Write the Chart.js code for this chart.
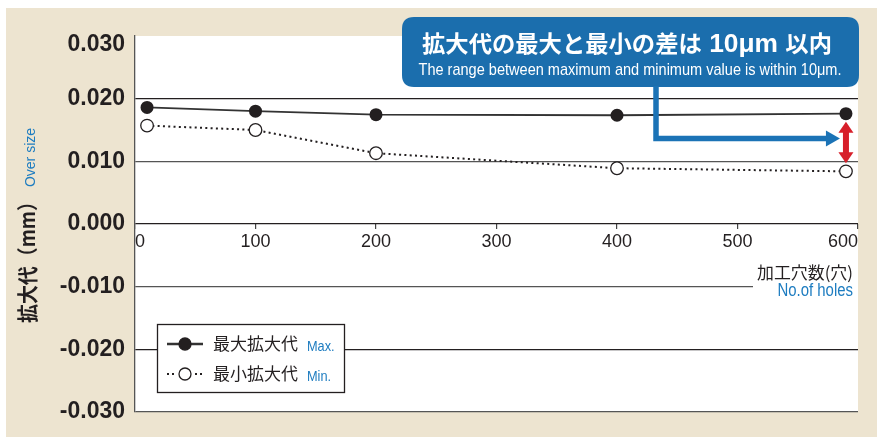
<!DOCTYPE html>
<html><head><meta charset="utf-8">
<script src="https://cdn.jsdelivr.net/npm/chart.js@4.4.0/dist/chart.umd.min.js"></script>
<style>html,body{margin:0;padding:0;background:#fff;}#wrap{width:877px;height:437px;}</style>
</head><body><div id="wrap"><canvas id="c" width="877" height="437"></canvas></div>
<script>
// ---- data ----
const holes = [10, 100, 200, 400, 590];
const maxOversize = [0.0186, 0.0180, 0.01745, 0.01735, 0.0176];
const minOversize = [0.0157, 0.0150, 0.0113, 0.0089, 0.0084];
const yTickValues = [0.03, 0.02, 0.01, 0, -0.01, -0.02, -0.03];
const xTickValues = [0, 100, 200, 300, 400, 500, 600];
const seriesNames = ['最大拡大代', '最小拡大代'];
const seriesTags = ['Max.', 'Min.'];
const yTitleJa = '拡大代（mm）';
const yTitleEn = 'Over size';
const xTitleJa = '加工穴数(穴)';
const xTitleEn = 'No.of holes';
const noteJa = ['拡大代の最大と最小の差は', '10μm', '以内'];
const noteEn = 'The range between maximum and minimum value is within 10μm.';

// ---- styles ----
const BEIGE = '#ede4d0';
const INK = '#231f20';
const BLUE_TXT = '#1d7cc0';
const BLUE_BOX = '#1b6ead';
const BLUE_ARROW = '#1b73b6';
const RED = '#d71f2a';
const JP = '"Noto Sans CJK JP","Noto Sans CJK SC",sans-serif';
const LAT = '"Liberation Sans",Arial,sans-serif';

function drawParts(ctx, parts, x, y, align, fitWidth) {
  const widths = parts.map(p => { ctx.font = p.font; return ctx.measureText(p.t).width * (p.sx || 1); });
  const total = widths.reduce((a, b) => a + b, 0);
  const k = fitWidth ? fitWidth / total : 1;
  const w = total * k;
  const start = align === 'center' ? x - w / 2 : (align === 'right' ? x - w : x);
  ctx.save();
  ctx.translate(start, y);
  ctx.scale(k, 1);
  let cx = 0;
  parts.forEach((p, i) => {
    ctx.save();
    ctx.translate(cx + (p.dx || 0), p.dy || 0);
    ctx.scale(p.sx || 1, 1);
    ctx.font = p.font; ctx.fillStyle = p.color;
    ctx.textAlign = 'left'; ctx.textBaseline = 'alphabetic';
    ctx.fillText(p.t, 0, 0);
    ctx.restore();
    cx += widths[i];
  });
  ctx.restore();
}

function roundRect(ctx, x, y, w, h, r) {
  ctx.beginPath();
  ctx.moveTo(x + r, y);
  ctx.lineTo(x + w - r, y); ctx.quadraticCurveTo(x + w, y, x + w, y + r);
  ctx.lineTo(x + w, y + h - r); ctx.quadraticCurveTo(x + w, y + h, x + w - r, y + h);
  ctx.lineTo(x + r, y + h); ctx.quadraticCurveTo(x, y + h, x, y + h - r);
  ctx.lineTo(x, y + r); ctx.quadraticCurveTo(x, y, x + r, y);
  ctx.closePath();
}

const deco = {
  id: 'deco',
  beforeDraw(chart) {
    const { ctx, chartArea: a } = chart;
    ctx.save();
    ctx.fillStyle = '#fff'; ctx.fillRect(0, 0, chart.width, chart.height);
    ctx.fillStyle = BEIGE; ctx.fillRect(6, 8, chart.width - 6, chart.height - 8);
    ctx.fillStyle = '#fff'; ctx.fillRect(a.left, a.top, a.right - a.left, a.bottom - a.top);
    ctx.restore();
    // nudge the top y tick label down, as in the reference
    if (!chart.$nudged) {
      try {
        const items = chart.scales.y.getLabelItems();
        const topLabel = yTickValues[0].toFixed(3);
        items.forEach(it => { if (it.label === topLabel) it.options.translation[1] += 9; });
        chart.$nudged = true;
      } catch (e) {}
    }
  },
  afterDraw(chart) {
    const { ctx, chartArea: a, scales: { x, y } } = chart;
    ctx.save();

    // y axis title (rotated)
    ctx.save();
    ctx.translate(35, 323);
    ctx.rotate(-Math.PI / 2);
    drawParts(ctx, [{ t: yTitleJa, font: 'bold 21px ' + JP, color: INK }], 0, 0, 'left', 131);
    drawParts(ctx, [{ t: yTitleEn, font: '15px ' + LAT, color: BLUE_TXT }], 136, 0, 'left', 59);
    ctx.restore();

    // x axis title with gap in the gridline
    const gy = y.getPixelForValue(-0.01);
    ctx.fillStyle = '#fff';
    ctx.fillRect(753, gy - 3, a.right - 753, 6);
    drawParts(ctx, [{ t: xTitleJa, font: '17px ' + JP, color: INK }], 853, 279, 'right', 96);
    drawParts(ctx, [{ t: xTitleEn, font: '18px ' + LAT, color: BLUE_TXT, sx: 0.83 }], 853, 296, 'right');

    // legend
    const ds = chart.data.datasets;
    ctx.fillStyle = '#fff';
    ctx.fillRect(157, 324, 187, 68);
    ctx.strokeStyle = INK; ctx.lineWidth = 1.3;
    ctx.strokeRect(157.5, 324.5, 187, 68);
    const rows = [344, 374];
    rows.forEach((ry, i) => {
      const d = ds[i];
      ctx.save();
      ctx.strokeStyle = d.borderColor;
      if (i === 0) {
        ctx.lineWidth = 2.6;
        ctx.beginPath(); ctx.moveTo(167, ry); ctx.lineTo(203, ry); ctx.stroke();
      } else {
        ctx.fillStyle = INK;
        [168, 173, 196, 201].forEach(dx => ctx.fillRect(dx - 1, ry - 1, 2, 2));
      }
      ctx.beginPath(); ctx.arc(185, ry, 6, 0, Math.PI * 2);
      ctx.fillStyle = d.pointBackgroundColor; ctx.fill();
      ctx.lineWidth = 1.3; ctx.strokeStyle = d.pointBorderColor; ctx.stroke();
      ctx.restore();
      drawParts(ctx, [{ t: seriesNames[i], font: '17px ' + JP, color: INK }], 213, ry + 6, 'left', 85);
      drawParts(ctx, [{ t: seriesTags[i], font: '15px ' + LAT, color: BLUE_TXT, sx: 0.85 }], 307, ry + 7, 'left');
    });

    // red double arrow between max and min at the last point
    const li = holes.length - 1;
    const ax = x.getPixelForValue(holes[li]);
    const yTop = y.getPixelForValue(maxOversize[li]) + 8;
    const yBot = y.getPixelForValue(minOversize[li]) - 8;
    ctx.fillStyle = RED;
    ctx.fillRect(ax - 3, yTop + 9, 6, yBot - yTop - 18);
    ctx.beginPath(); ctx.moveTo(ax, yTop); ctx.lineTo(ax + 7.5, yTop + 11); ctx.lineTo(ax - 7.5, yTop + 11); ctx.closePath(); ctx.fill();
    ctx.beginPath(); ctx.moveTo(ax, yBot); ctx.lineTo(ax + 7.5, yBot - 11); ctx.lineTo(ax - 7.5, yBot - 11); ctx.closePath(); ctx.fill();

    // callout box
    ctx.fillStyle = BLUE_BOX;
    roundRect(ctx, 402, 17, 457, 70, 12);
    ctx.fill();
    drawParts(ctx, [
      { t: noteJa[0], font: 'bold 23px ' + JP, color: '#fff' },
      { t: ' ' + noteJa[1] + ' ', font: 'bold 26px ' + LAT, color: '#fff' },
      { t: noteJa[2], font: 'bold 23px ' + JP, color: '#fff' }
    ], 627, 52, 'center', 410);
    drawParts(ctx, [{ t: noteEn, font: '17px ' + LAT, color: '#fff' }], 630, 75, 'center', 423);

    // blue connector arrow
    const cy = (yTop + yBot) / 2 - 4;
    const tip = ax - 6;
    ctx.strokeStyle = BLUE_ARROW; ctx.lineWidth = 5.5; ctx.lineJoin = 'miter';
    ctx.beginPath(); ctx.moveTo(656, 86); ctx.lineTo(656, cy); ctx.lineTo(tip - 13, cy); ctx.stroke();
    ctx.fillStyle = BLUE_ARROW;
    ctx.beginPath(); ctx.moveTo(tip, cy); ctx.lineTo(tip - 14, cy - 8); ctx.lineTo(tip - 14, cy + 8); ctx.closePath(); ctx.fill();

    ctx.restore();
  }
};

new Chart(document.getElementById('c'), {
  type: 'line',
  data: {
    datasets: [
      {
        label: seriesNames[0],
        data: holes.map((h, i) => ({ x: h, y: maxOversize[i] })),
        borderColor: '#333',
        borderWidth: 1.8,
        pointRadius: 6.5,
        pointBackgroundColor: INK,
        pointBorderColor: INK,
        pointBorderWidth: 0,
        order: 1
      },
      {
        label: seriesNames[1],
        data: holes.map((h, i) => ({ x: h, y: minOversize[i] })),
        borderColor: INK,
        borderWidth: 2,
        borderDash: [2, 3.3],
        pointRadius: 6.3,
        pointBackgroundColor: '#fff',
        pointBorderColor: INK,
        pointBorderWidth: 1.3,
        order: 2
      }
    ]
  },
  options: {
    responsive: false,
    animation: false,
    devicePixelRatio: 1,
    layout: { padding: { left: 0, top: 36, right: 19, bottom: 25 } },
    plugins: { legend: { display: false }, tooltip: { enabled: false } },
    scales: {
      x: {
        type: 'linear',
        min: 0, max: 600,
        position: { y: 0 },
        afterBuildTicks: s => { s.ticks = xTickValues.map(v => ({ value: v })); },
        grid: { drawOnChartArea: false, drawTicks: true, tickLength: 5, color: '#444', lineWidth: 1.2 },
        border: { display: false },
        ticks: {
          align: 'inner', padding: 2, color: INK, maxRotation: 0, autoSkip: false,
          font: { family: LAT, size: 18 },
          callback: v => String(v)
        }
      },
      y: {
        min: -0.03, max: 0.03,
        afterBuildTicks: s => { s.ticks = yTickValues.map(v => ({ value: v })); },
        afterFit: s => { s.width = 135; },
        grid: {
          drawTicks: false,
          lineWidth: 1.3,
          color: c => {
            const v = c.tick ? c.tick.value : 0;
            if (Math.abs(v - 0.03) < 1e-9) return 'rgba(0,0,0,0)';
            const n = Math.round(Math.abs(v) * 100);
            return n % 2 === 1 ? '#555' : INK;
          }
        },
        border: { display: true, color: '#555', width: 1.3 },
        ticks: {
          padding: 10, color: INK,
          font: { family: LAT, size: 23, weight: 'bold' },
          callback: v => Number(v).toFixed(3)
        }
      }
    }
  },
  plugins: [deco]
});
</script></body></html>
